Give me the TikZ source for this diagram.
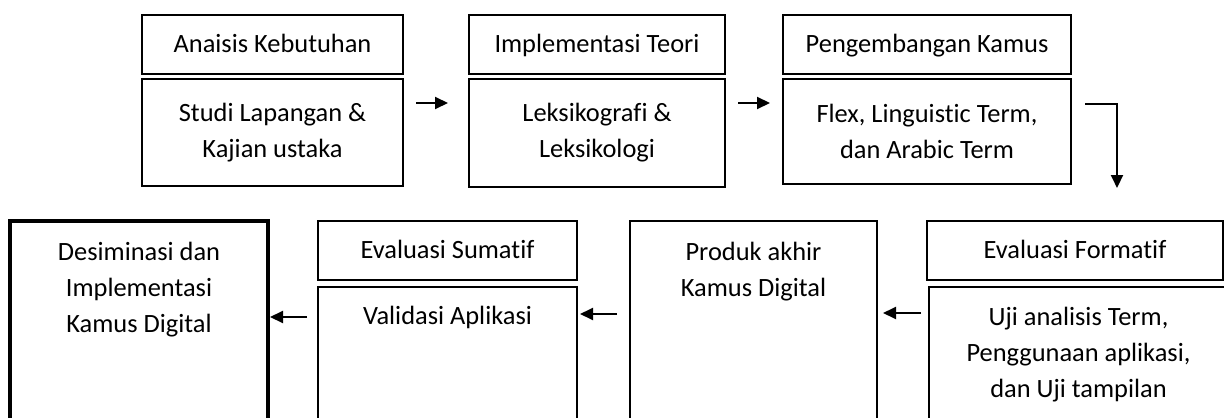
\documentclass[tikz,border=0pt]{standalone}
\usepackage{fontspec}
\setmainfont{Carlito}[Ligatures=CommonOff]
\usetikzlibrary{arrows.meta, positioning}

\begin{document}
\begin{tikzpicture}[
    x=0.5pt, y=-0.5pt,
    font=\fontsize{13.2}{18}\selectfont,
    head/.style={draw, line width=1.3pt, minimum height=29.5pt, inner sep=0pt, outer sep=0pt, text height=10pt, text depth=2pt},
    body/.style={draw, line width=1.3pt, inner sep=0pt, outer sep=0pt, align=center},
    topbody/.style={body, anchor=north, text depth=80pt},
    arr/.style={-{Triangle[length=6.5pt, width=6pt]}, line width=1pt}
]
   \clip (0,0) rectangle (1224,417);

   % Top row
   \node[head, minimum width=130.5pt] (h1) at (272.5,44.5) {Anaisis Kebutuhan};
   \node[body, minimum width=130.5pt, minimum height=53.5pt, below=2.5pt of h1] (b1) {Studi Lapangan \&\\Kajian ustaka};
   \node[head, minimum width=128pt] (h2) at (597,44.5) {Implementasi Teori};
   \node[body, minimum width=128pt, minimum height=54pt, below=2.5pt of h2] (b2) {Leksikografi \&\\Leksikologi};
   \node[head, minimum width=144pt] (h3) at (927,44.5) {Pengembangan Kamus};
   \node[body, minimum width=144pt, minimum height=52.5pt, below=2.5pt of h3] (b3) {Flex, Linguistic Term,\\dan Arabic Term};

   % Bottom row
   \node[topbody, line width=2pt, minimum width=129pt, text height=55.75pt] (ds) at (139,221) {Desiminasi dan\\Implementasi\\Kamus Digital};
   \node[head, minimum width=129.5pt] (es) at (447.5,250.5) {Evaluasi Sumatif};
   \node[topbody, minimum width=129.5pt, text height=18.75pt] (va) at (447.5,287) {Validasi Aplikasi};
   \node[topbody, minimum width=123.5pt, text height=37.75pt] (pr) at (753.5,221) {Produk akhir\\Kamus Digital};
   \node[head, minimum width=148pt] (ef) at (1075,250.5) {Evaluasi Formatif};
   \node[topbody, minimum width=149.5pt, text height=55.25pt] (uj) at (1078.5,287) {Uji analisis Term,\\Penggunaan aplikasi,\\dan Uji tampilan};

   % Arrows
   \draw[arr] ([shift={(13,24)}]b1.north east) -- ([shift={(-21,24)}]b2.north west);
   \draw[arr] ([shift={(13,24)}]b2.north east) -- ([shift={(-13,24)}]b3.north west);
   \draw[arr] ([shift={(14,25)}]b3.north east) -| ([shift={(190,-33)}]ef.north west);
   \draw[arr] ([shift={(-8,26)}]uj.north west) -- ([shift={(6,92)}]pr.north east);
   \draw[arr] ([shift={(-13,93)}]pr.north west) -- ([shift={(3,27)}]va.north east);
   \draw[arr] ([shift={(-11,30)}]va.north west) -- ([shift={(2,96)}]ds.north east);
\end{tikzpicture}
\end{document}
